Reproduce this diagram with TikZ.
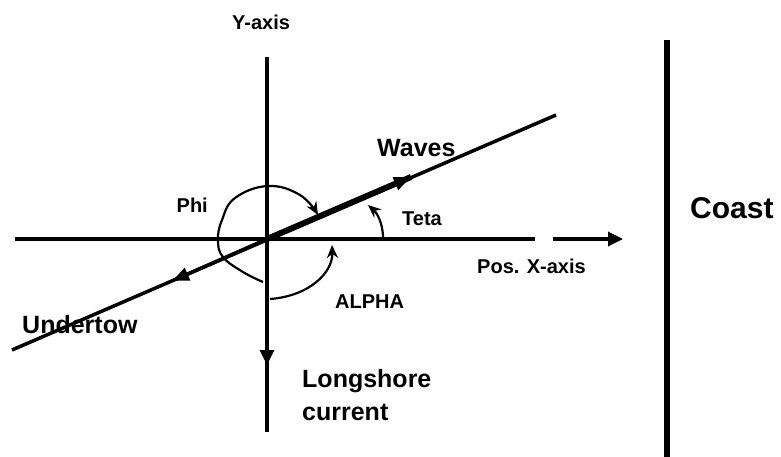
\documentclass[tikz,border=0pt]{standalone}
\usepackage{fontspec}
\setmainfont{Liberation Sans}
\usetikzlibrary{arrows.meta}
\begin{document}
\begin{tikzpicture}[x=1pt,y=-1pt,
  axisline/.style={line width=3.3pt},
  waveline/.style={line width=3.5pt},
  wavethick/.style={line width=6pt},
  coastline/.style={line width=6pt},
  marker/.style={line width=2.2pt,-{Stealth[length=13pt,width=11pt]}},
  bigtip/.style={-{Triangle[length=15pt,width=14pt]}},
  midtip/.style={-{Triangle[length=17pt,width=13pt]}},
  lbl/.style={inner sep=0pt, anchor=base west, font=\bfseries\fontsize{20}{24}\selectfont},
  lblbig/.style={lbl, font=\bfseries\fontsize{25}{30}\selectfont},
  lblhuge/.style={lbl, font=\bfseries\fontsize{30}{36}\selectfont},
]
\useasboundingbox (0,0) rectangle (781,457);

% coordinates
\coordinate (O) at (267,239);
\coordinate (xleft) at (15,239);
\coordinate (xright) at (535,239);
\coordinate (xarrS) at (553,239);
\coordinate (xarrE) at (623,239);
\coordinate (ytop) at (267,57);
\coordinate (ymid) at (267,365);
\coordinate (ybot) at (267,432);
\coordinate (wstart) at (12,350);
\coordinate (wend) at (556,115);
\coordinate (wtip) at (411,177);
\coordinate (utip) at (172,281);
\coordinate (ctop) at (667,40);
\coordinate (cbot) at (667,457);

% labels
\node[lbl] (yaxis) at (232,30) {Y-axis};
\node[lblbig] (waves) at (377,157) {Waves};
\node[lbl, anchor=base east] (phi) at (208,212) {Phi};
\node[lbl] (teta) at (402,225) {Teta};
\node[lblhuge] (coast) at (690,218) {Coast};
\node[lbl] (posx) at (477,273) {Pos. X-axis};
\node[lbl] (alpha) at (335,308) {ALPHA};
\node[lblbig] (under) at (22,333) {Undertow};
\node[lblbig] (longshore) at (302,387) {Longshore};
\node[lblbig] (current) at (302,420) {current};

% axes
\draw[axisline] (xleft) -- (xright);
\draw[axisline, bigtip] (xarrS) -- (xarrE);
\draw[axisline] (ytop) -- (ybot);
\draw[axisline, bigtip] (ytop) -- (ymid);

% coast
\draw[coastline] (ctop) -- (cbot);

% wave line
\draw[waveline] (wstart) -- (wend);
\draw[wavethick] (O) -- (wtip);
\draw[waveline, midtip] (O) -- (wtip);
\draw[waveline, midtip] (O) -- (utip);

% angle markers
\draw[marker] plot[smooth, tension=0.7] coordinates {(263,282) (243,272) (223,257) (218,240) (222,220) (235,198) (268,186) (300,195) (318,215)};
\draw[marker] (270,299) .. controls (310,296) and (333,272) .. (332,245);
\draw[marker] (383,238) .. controls (383,222) and (376,212) .. (368,205);
\end{tikzpicture}
\end{document}
